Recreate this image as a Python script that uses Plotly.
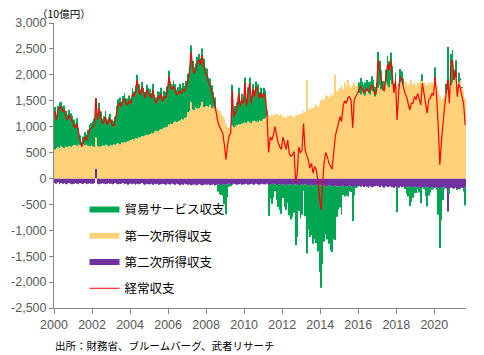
import pandas as pd
import plotly.graph_objects as go

# Monthly values, 10億円, Jan 2000 - Aug 2021
current_account = [
    1290,1130,1320,1350,1390,1290,1320,1190,1130,1230,1160,1100,  # 2000
    1040,970,1060,870,740,610,710,800,740,840,940,970,            # 2001
    1000,1060,1550,1130,1350,1190,1060,1100,1190,1040,1100,1150,  # 2002
    1040,1000,1100,1300,1420,1460,1380,1500,1540,1450,1420,1500,  # 2003
    1450,1640,1580,1680,1900,1710,1610,1770,1640,1550,1710,1640,  # 2004
    1610,1550,1710,1510,1450,1580,1550,1640,1480,1580,1550,1680,  # 2005
    1970,1750,1720,1780,1700,1610,1650,1700,1640,1720,1690,1770,  # 2006
    1900,2060,2440,2150,2030,2100,2220,2290,2200,2380,2190,2030,  # 2007
    2000,1840,1800,1680,1560,1430,1250,1080,1000,930,870,650,     # 2008
    360,640,820,870,1690,1190,1290,1350,1640,1390,1510,1450,      # 2009
    1840,1390,1640,1840,1450,1710,1580,1770,1710,1550,1640,1550,  # 2010
    1640,1580,1200,500,800,740,840,1000,840,680,610,560,          # 2011
    800,650,560,740,480,430,450,520,-80,100,610,490,              # 2012
    550,1060,550,450,360,200,290,100,230,170,-30,-350,            # 2013
    -610,-100,300,500,420,300,230,180,480,810,940,1100,           # 2014
    1190,1100,1400,1500,1450,1550,1580,1500,980,1520,1600,1650,   # 2015
    1700,1780,1720,1650,1700,1740,1680,1720,1800,1750,1620,1700,  # 2016
    2290,2100,1950,1720,1690,1950,2200,2100,2280,2000,1650,1880,  # 2017
    1130,1650,1960,1900,1770,1650,1580,1450,1320,1450,1450,1580,  # 2018
    1520,1640,1550,1420,1840,1640,1480,1260,1520,1550,1640,1600,  # 2019
    1960,1580,1000,260,700,1130,1390,1640,1900,1450,2220,2290,    # 2020
    1900,2100,1580,1830,1740,1580,1450,1030,                      # 2021
]
primary_income = [
    560,590,600,580,620,600,590,610,600,620,610,630,
    640,650,630,660,640,650,660,640,650,630,620,640,
    620,610,600,630,610,620,640,630,650,640,620,650,
    640,660,650,670,680,660,700,690,710,700,720,730,
    740,760,750,780,770,800,790,820,810,830,850,840,
    860,880,870,900,920,910,940,950,960,980,990,1000,
    1040,1060,1050,1080,1100,1090,1110,1120,1150,1140,1170,1180,
    1280,1300,1470,1330,1320,1380,1350,1360,1400,1480,1380,1400,
    1400,1380,1420,1360,1390,1350,1370,1330,1300,1250,1200,1150,
    1050,1000,980,1000,1020,990,1010,1030,1050,1040,1060,1070,
    1080,1060,1100,1090,1070,1110,1120,1100,1090,1130,1110,1140,
    1150,1170,1200,1220,1190,1230,1210,1240,1250,1230,1220,1240,
    1180,1200,1170,1210,1190,1220,1200,1180,1210,1230,1240,1260,
    1250,1300,1280,1900,1350,1330,1380,1360,1400,1420,1380,1450,
    1500,1550,1520,1580,1600,1560,1620,1600,1650,2000,1680,1700,
    1750,1800,1720,1850,1780,1900,1820,1760,1800,1850,1780,1820,
    1650,1620,1700,1640,1600,1680,1650,1620,1700,1680,1580,1620,
    1750,1800,1720,1780,1700,1850,1800,1760,1900,1820,1760,1800,
    1780,1800,1850,1900,1820,1850,1880,1800,1850,1900,1820,1860,
    1800,1850,1820,1900,1880,1850,1820,1800,1850,1820,1860,1800,
    1850,1800,1700,1600,1500,1550,1600,1650,1700,1750,1800,1850,
    1900,1950,1800,1850,1900,1750,1700,1550,
]
secondary_income = [
    -90,-100,-80,-110,-90,-100,-90,-110,-100,-90,-100,-110,
    -100,-90,-100,-110,-90,-100,-100,-90,-110,-100,-90,-100,
    -100,-90,190,-100,-110,-100,-90,-100,-110,-100,-90,-100,
    -100,-110,-90,-100,-110,-100,-100,-90,-110,-100,-120,-100,
    -100,-110,-100,-120,-100,-110,-100,-90,-110,-120,-100,-110,
    -110,-100,-120,-100,-110,-100,-120,-110,-100,-110,-120,-100,
    -110,-120,-100,-110,-120,-100,-110,-130,-110,-120,-100,-110,
    -120,-110,-130,-120,-110,-120,-130,-110,-120,-130,-120,-110,
    -120,-110,-130,-120,-110,-130,-120,-110,-120,-130,-110,-120,
    -120,-110,-100,-110,-120,-100,-110,-120,-110,-100,-120,-110,
    -110,-100,-120,-110,-100,-110,-120,-100,-110,-120,-110,-100,
    -110,-120,-100,-130,-110,-120,-100,-110,-130,-120,-110,-120,
    -120,-110,-130,-120,-110,-120,-130,-120,-110,-120,-130,-120,
    -120,-130,-110,-120,-130,-140,-120,-130,-140,-120,-130,-140,
    -130,-150,-140,-160,-150,-140,-130,-150,-160,-140,-150,-160,
    -150,-160,-140,-170,-150,-160,-140,-150,-170,-160,-150,-140,
    -150,-160,-140,-170,-150,-160,-180,-150,-170,-160,-150,-140,
    -150,-170,-140,-160,-180,-150,-170,-160,-150,-170,-180,-160,
    -160,-180,-150,-170,-160,-180,-150,-170,-160,-180,-170,-160,
    -170,-180,-160,-190,-170,-180,-160,-170,-180,-190,-170,-180,
    -180,-170,-190,-200,-180,-170,-160,-190,-640,-200,-180,-190,
    -200,-180,-190,-210,-200,-180,-190,-170,
]
trade_services = [
    820,640,800,880,860,790,820,690,630,700,650,580,
    500,410,530,320,190,60,150,250,200,310,410,430,
    480,540,760,600,850,670,510,570,650,500,570,600,
    500,450,540,730,850,900,780,900,940,850,820,870,
    810,990,930,1020,1230,1020,920,1040,940,840,960,910,
    860,770,960,710,640,770,730,800,620,710,680,780,
    1040,810,770,810,720,620,650,710,600,700,620,700,
    740,870,1100,940,820,840,1000,1040,920,1030,930,740,
    720,570,510,440,280,210,0,-140,-180,-190,-220,-380,
    -570,-250,-60,-20,790,300,390,440,700,450,570,490,
    870,430,660,860,480,710,580,770,730,540,640,510,
    600,530,100,-590,-280,-370,-270,-130,-280,-430,-500,-560,
    -260,-440,-480,-350,-600,-670,-620,-540,-1180,-1010,-500,-650,
    -580,-110,-620,-1330,-860,-990,-970,-1130,-1030,-1130,-1280,-1660,
    -1980,-1500,-1080,-920,-1030,-1120,-1260,-1270,-1010,-1050,-590,-440,
    -410,-540,-180,-180,-180,-190,-100,-110,-650,-170,-30,-30,
    200,320,160,180,250,220,210,250,270,230,190,220,
    690,470,370,100,170,250,570,500,530,350,70,240,
    -490,30,260,170,110,-20,-150,-180,-370,-270,-200,-120,
    -110,-30,-110,-290,130,-30,-180,-370,-150,-80,-50,-20,
    290,-50,-510,-1140,-620,-250,-50,180,840,-100,600,630,
    200,330,-30,190,40,10,-60,-350,
]

y_tick_values = [-2500, -2000, -1500, -1000, -500, 0, 500, 1000, 1500, 2000, 2500, 3000]
y_tick_labels = ["-2,500", "-2,000", "-1,500", "-1,000", "-500", "0",
                 "500", "1,000", "1,500", "2,000", "2,500", "3,000"]
x_tick_years = ["2000", "2002", "2004", "2006", "2008", "2010",
                "2012", "2014", "2016", "2018", "2020"]

months = pd.date_range("2000-01-01", periods=len(current_account), freq="MS")

GREEN = "#00A651"
YELLOW = "#FFD27A"
PURPLE = "#7030A0"
RED = "#FF0000"
JP = "Noto Sans CJK JP"

fig = go.Figure()
common = dict(x=months, xperiod="M1", xperiodalignment="middle", showlegend=False,
              marker_line_width=0)
fig.add_trace(go.Bar(y=secondary_income, marker_color=PURPLE, name="第二次所得収支", **common))
fig.add_trace(go.Bar(y=primary_income, marker_color=YELLOW, name="第一次所得収支", **common))
fig.add_trace(go.Bar(y=trade_services, marker_color=GREEN, name="貿易サービス収支", **common))

# legend entries (wide swatches)
for name, col, grp in [("貿易サービス収支", GREEN, "a"), ("第一次所得収支", YELLOW, "b"),
                       ("第二次所得収支", PURPLE, "c")]:
    fig.add_trace(go.Scatter(x=[None], y=[None], mode="lines", name=name,
                             line=dict(color=col, width=6), legendgroup=grp))

fig.add_trace(go.Scatter(x=months, y=current_account, xperiod="M1",
                         xperiodalignment="middle", mode="lines", name="経常収支",
                         line=dict(color=RED, width=1.2), legendgroup="d"))

axis_col = "#868686"
tick_font = dict(family="Liberation Sans, Arial", size=12.5, color="#595959")

fig.update_layout(
    width=484, height=355,
    margin=dict(l=54, r=18, t=23, b=47),
    paper_bgcolor="white", plot_bgcolor="white",
    barmode="relative", bargap=0.45,
    showlegend=True,
    legend=dict(x=0.074, y=0.397, xanchor="left", yanchor="top",
                bgcolor="rgba(0,0,0,0)", font=dict(family=JP, size=12.5, color="#000000"),
                tracegroupgap=7, traceorder="grouped"),
    xaxis=dict(type="date", range=["2000-01-01", "2021-09-01"],
               tickvals=[f"{y}-01-01" for y in x_tick_years], ticktext=x_tick_years,
               showgrid=False, zeroline=False, showline=True, linecolor=axis_col,
               ticks="outside", ticklen=5, tickcolor=axis_col, tickfont=tick_font),
    yaxis=dict(range=[-2500, 3000], tickvals=y_tick_values, ticktext=y_tick_labels,
               showgrid=False, zeroline=False, showline=True, linecolor=axis_col,
               ticks="outside", ticklen=4, tickcolor=axis_col, tickfont=tick_font),
    annotations=[
        dict(text="（10億円）", xref="paper", yref="paper", x=-0.045, y=1.035,
             xanchor="left", yanchor="middle", align="left", showarrow=False,
             font=dict(family=JP, size=10.5, color="#000000")),
        dict(text="出所：財務省、ブルームバーグ、武者リサーチ", xref="paper", yref="paper",
             x=-0.003, y=-0.13, xanchor="left", yanchor="middle", align="left",
             showarrow=False, font=dict(family=JP, size=10.5, color="#000000")),
    ],
)

fig.write_html("out.html", config={"displayModeBar": False},
               post_script="document.body.style.margin='0';")
